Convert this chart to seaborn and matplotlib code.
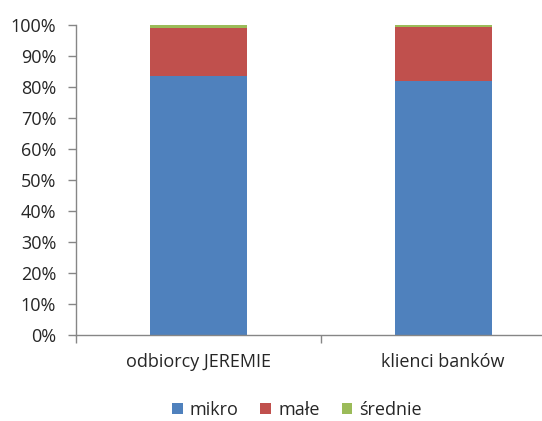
import matplotlib
matplotlib.use('Agg')
import matplotlib.pyplot as plt
import matplotlib.ticker as mticker
import pandas as pd
import seaborn as sns

# Dane
kategorie = ['odbiorcy JEREMIE', 'klienci banków']
mikro = [83.8, 82.0]
male = [15.3, 17.5]
srednie = [0.9, 0.5]

serie = ['mikro', 'małe', 'średnie']
kolory = ['#4F81BD', '#C0504D', '#9BBB59']

df = pd.DataFrame({'kategoria': kategorie, 'mikro': mikro, 'małe': male, 'średnie': srednie})

sns.set_style('white')
plt.rcParams['font.family'] = ['Open Sans', 'DejaVu Sans']

fig = plt.figure(figsize=(5.42, 4.21), dpi=100)
# prawy brzeg osi wychodzi poza obraz, tak jak w oryginale
ax = fig.add_axes([75.7 / 542, (421 - 335.4) / 421, 490 / 542, 310 / 421])

# słupki skumulowane: rysujemy sumy od góry
skum = df[serie].cumsum(axis=1)
for s, k in reversed(list(zip(serie, kolory))):
    sns.barplot(x=df['kategoria'], y=skum[s], color=k, width=0.396,
                saturation=1, ax=ax, label=s, edgecolor='none')

ax.set_ylim(0, 100)
ax.set_xlim(-0.5, 1.5)
ax.yaxis.set_major_locator(mticker.MultipleLocator(10))
ax.yaxis.set_major_formatter(mticker.FuncFormatter(lambda v, p: f'{int(v)}%'))
ax.set_xlabel('')
ax.set_ylabel('')

szary = '#868686'
tekst = '#262626'
for side in ['top', 'right']:
    ax.spines[side].set_visible(False)
for side in ['left', 'bottom']:
    ax.spines[side].set_color(szary)
    ax.spines[side].set_linewidth(1)

ax.tick_params(axis='y', left=True, length=6, width=1, color=szary,
               labelsize=13, labelcolor=tekst, pad=8)
ax.set_xticks([0, 1])
ax.set_xticklabels(kategorie)
ax.set_xticks([-0.5, 0.5, 1.5], minor=True)
ax.tick_params(axis='x', which='major', bottom=False, length=0, labelsize=13,
               labelcolor=tekst, pad=13)
ax.tick_params(axis='x', which='minor', bottom=True, length=6, width=1, color=szary)

uchwyty, etykiety = ax.get_legend_handles_labels()
kolej = [etykiety.index(s) for s in serie]
ax.legend([uchwyty[i] for i in kolej], [etykiety[i] for i in kolej],
          loc='center', bbox_to_anchor=(297 / 542, 11 / 421), bbox_transform=fig.transFigure,
          ncol=3, frameon=False, fontsize=13, handlelength=0.6, handleheight=0.6,
          handletextpad=0.4, columnspacing=1.2, labelcolor=tekst)

fig.savefig('out.png', dpi=100)
